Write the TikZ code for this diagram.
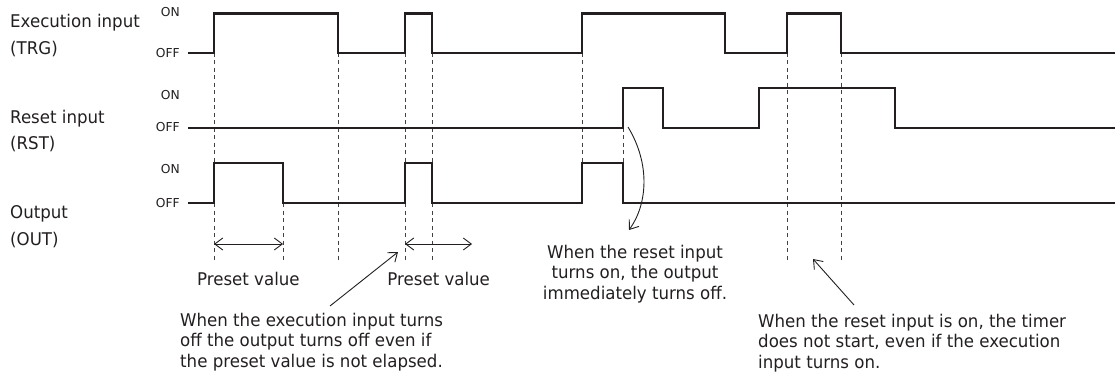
\documentclass[tikz,border=0pt]{standalone}
\usepackage{fontspec}
\setmainfont{DejaVu Sans}
\newfontfamily\condfont{DejaVu Sans}[FakeStretch=0.95]
\usetikzlibrary{arrows.meta}
\definecolor{ink}{HTML}{231F20}
\begin{document}
\begin{tikzpicture}[x=1pt,y=-1pt,
  sig/.style={line width=2.5pt, draw=ink, line join=miter},
  guide/.style={line width=0.9pt, draw=ink!85, dash pattern=on 4pt off 3.5pt},
  lbl/.style={font=\condfont\fontsize{17.5}{20.5}\selectfont, text=ink, inner sep=0pt, anchor=base west},
  lvl/.style={font=\fontsize{12.3}{13}\selectfont, text=ink, inner sep=0pt, anchor=base east},
  note/.style={font=\condfont\fontsize{17.5}{20.5}\selectfont, text=ink, inner sep=0pt},
  tipb/.tip={Straight Barb[length=8pt,width=12pt]},
  ptr/.style={line width=0.9pt, draw=ink, -tipb},
  spanarrow/.style={line width=0.9pt, draw=ink, tipb-tipb},
]
\useasboundingbox (0,0) rectangle (1115,374);

% guide lines
\draw[guide] (214,53) -- (214,260);
\draw[guide] (283,203) -- (283,260);
\draw[guide] (338,53) -- (338,260);
\draw[guide] (405,53) -- (405,260);
\draw[guide] (432,53) -- (432,260);
\draw[guide] (582,53) -- (582,163);
\draw[guide] (623,128) -- (623,163);
\draw[guide] (787,53) -- (787,260);
\draw[guide] (841,53) -- (841,260);

% signals
\draw[sig] (188,53) -- (214,53) -- (214,13.5) -- (338,13.5) -- (338,53) -- (405,53) -- (405,13.5) -- (432,13.5) -- (432,53) -- (582,53) -- (582,13.5) -- (725,13.5) -- (725,53) -- (787,53) -- (787,13.5) -- (841,13.5) -- (841,53) -- (1116,53);
\draw[sig] (188,128) -- (623,128) -- (623,88) -- (663,88) -- (663,128) -- (759,128) -- (759,88) -- (895,88) -- (895,128) -- (1116,128);
\draw[sig] (188,203) -- (214,203) -- (214,163) -- (283,163) -- (283,203) -- (405,203) -- (405,163) -- (432,163) -- (432,203) -- (582,203) -- (582,163) -- (623,163) -- (623,203) -- (1116,203);

% signal names
\node[lbl] (trg1) at (10,27.3) {Execution input};
\node[lbl] (trg2) at (10,55) {(TRG)};
\node[lbl] (rst1) at (10,123.3) {Reset input};
\node[lbl] (rst2) at (10,150) {(RST)};
\node[lbl] (out1) at (10,218.3) {Output};
\node[lbl] (out2) at (10,245.5) {(OUT)};

% levels
\node[lvl] (trgon) at (180,16.7) {ON};
\node[lvl] (trgoff) at (180,57.3) {OFF};
\node[lvl] (rston) at (180,99.3) {ON};
\node[lvl] (rstoff) at (180,131.7) {OFF};
\node[lvl] (outon) at (180,174) {ON};
\node[lvl] (outoff) at (180,207.3) {OFF};

% preset spans
\coordinate (s1a) at (214,244);
\coordinate (s1b) at (283,244);
\coordinate (s2a) at (405,244);
\coordinate (s2b) at (472,244);
\draw[spanarrow] (s1a) -- (s1b);
\draw[spanarrow] (s2a) -- (s2b);
\node[note, anchor=base] (pv1) at (248.4,285.7) {Preset value};
\node[note, anchor=base] (pv2) at (438.7,285.7) {Preset value};

% notes (base anchor = last line)
\node[note, anchor=base west, align=left] (n1) at (180,367) {When the execution input turns\\off the output turns off even if\\the preset value is not elapsed.};
\node[note, anchor=base, align=center] (n2) at (635,299) {When the reset input\\turns on, the output\\immediately turns off.};
\node[note, anchor=base west, align=left] (n3) at (758,368) {When the reset input is on, the timer\\does not start, even if the execution\\input turns on.};

% pointers
\coordinate (p1s) at (330,306);
\coordinate (p1e) at (398,252);
\draw[ptr] (p1s) -- (p1e);
\coordinate (p3s) at (854,305);
\coordinate (p3e) at (813,259);
\draw[ptr] (p3s) -- (p3e);
\coordinate (p2s) at (628,127);
\coordinate (p2e) at (629,230);
\draw[ptr] (p2s) .. controls (651,165) and (647,205) .. (p2e);
\end{tikzpicture}
\end{document}
